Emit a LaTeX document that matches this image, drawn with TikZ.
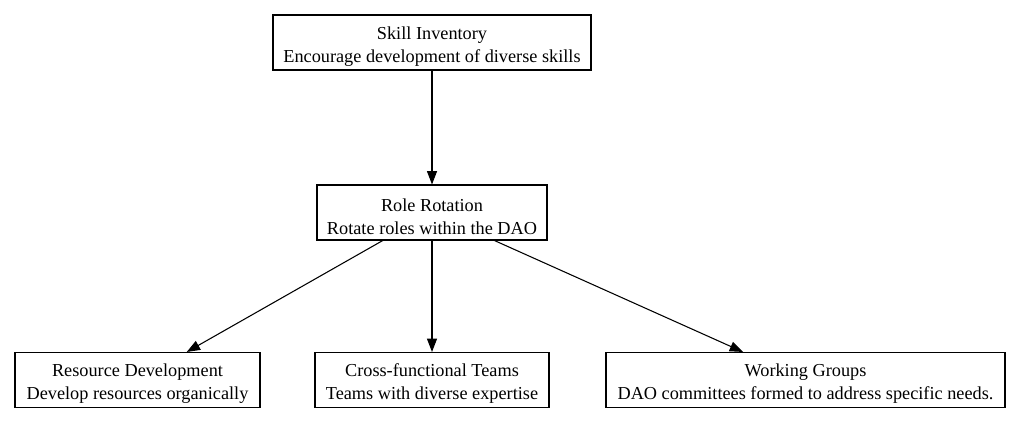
\documentclass[tikz,border=0pt]{standalone}
\usepackage{fontspec}
\setmainfont{Liberation Serif}
\usetikzlibrary{arrows.meta}
\newcommand{\toppad}{\rule{0pt}{15.5pt}}
\begin{document}
\begin{tikzpicture}[x=0.75pt,y=-0.75pt,
  box/.style={draw=black, line width=0.8pt, rectangle, align=center, inner sep=0pt,
    minimum height=41.25pt, font=\fontsize{13.7pt}{17.25pt}\selectfont},
  edge/.style={draw=black, line width=0.8pt, -{Triangle[length=10pt,width=7.5pt]}}]
\useasboundingbox (0,0) rectangle (1020,425);
\node[box, minimum width=238.5pt] (skill) at (432,42.5) {\toppad Skill Inventory\\Encourage development of diverse skills};
\node[box, minimum width=172.5pt] (role) at (432,212.5) {\toppad Role Rotation\\Rotate roles within the DAO};
\node[box, minimum width=183.75pt] (res) at (137.5,380) {\toppad Resource Development\\Develop resources organically};
\node[box, minimum width=175.5pt] (cross) at (432,380) {\toppad Cross-functional Teams\\Teams with diverse expertise};
\node[box, minimum width=299.25pt] (work) at (805.5,380) {\toppad Working Groups\\DAO committees formed to address specific needs.};
\draw[edge] (skill) -- (role);
\draw[edge] (role) -- (res);
\draw[edge] (role) -- (cross);
\draw[edge] (role) -- (work);
\end{tikzpicture}
\end{document}
